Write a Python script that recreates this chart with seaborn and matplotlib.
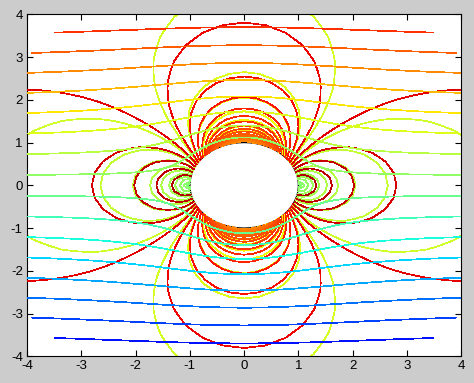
import numpy as np
import matplotlib
matplotlib.use("Agg")
import matplotlib.pyplot as plt
import seaborn as sns
from matplotlib.colors import Normalize

# ---- data description (potential flow past a unit cylinder, polar grid) ----
r_min, r_max = 1.0, 5.0          # radial extent of the computational grid
n_r, n_theta = 41, 61            # grid resolution
n_levels = 20                    # MATLAB-style contour(..., 20)
p_ref = 4.45                     # reference (stagnation) pressure
xticks = [-4, -3, -2, -1, 0, 1, 2, 3, 4]
yticks = [-4, -3, -2, -1, 0, 1, 2, 3, 4]
xlim = (-4, 4)
ylim = (-4, 4)

sns.set_theme(style="white")
plt.rcParams["font.family"] = ["Liberation Sans", "DejaVu Sans"]
plt.rcParams["axes.unicode_minus"] = False

r = np.linspace(r_min, r_max, n_r)
th = np.linspace(0, 2 * np.pi, n_theta)
R, TH = np.meshgrid(r, th)
X = R * np.cos(TH)
Y = R * np.sin(TH)

psi = Y * (1 - 1 / R**2)                                  # stream function
q2 = 1 - 2 * np.cos(2 * TH) / R**2 + 1 / R**4            # speed squared
q = np.sqrt(np.clip(q2, 0, None))                          # speed
p = p_ref - 0.5 * q2                                       # pressure

def auto_levels(f):
    return np.linspace(f.min(), f.max(), n_levels + 2)[1:-1]

norm = Normalize(psi.min(), psi.max())
cmap = plt.get_cmap("jet")

fig = plt.figure(figsize=(4.74, 3.83), dpi=100, facecolor=(0.8, 0.8, 0.8))
ax = fig.add_axes([27 / 474, 1 - 356.3 / 383, 434.3 / 474, 342 / 383])
ax.set_facecolor("white")

# cylinder outline
ax.plot(np.cos(th), np.sin(th), color="black", lw=0.9, zorder=1)

lw = 0.5
ax.contour(X, Y, q, levels=auto_levels(q), cmap=cmap, norm=norm,
           linewidths=lw, antialiased=False, zorder=2)
ax.contour(X, Y, p, levels=auto_levels(p), cmap=cmap, norm=norm,
           linewidths=lw, antialiased=False, zorder=3)
ax.contour(X, Y, psi, levels=auto_levels(psi), cmap=cmap, norm=norm,
           linewidths=lw, antialiased=False, zorder=4)

ax.set_xlim(*xlim)
ax.set_ylim(*ylim)
ax.set_xticks(xticks)
ax.set_yticks(yticks)
ax.set_xticklabels([str(t) for t in xticks])
ax.set_yticklabels([str(t) for t in yticks])
ax.tick_params(direction="in", length=4, width=0.8, colors="black",
               labelsize=9.5, top=True, right=True, bottom=True, left=True,
               pad=3)
for s in ax.spines.values():
    s.set_visible(True)
    s.set_color("black")
    s.set_linewidth(0.8)

fig.savefig("out.png", dpi=100, facecolor=fig.get_facecolor())
